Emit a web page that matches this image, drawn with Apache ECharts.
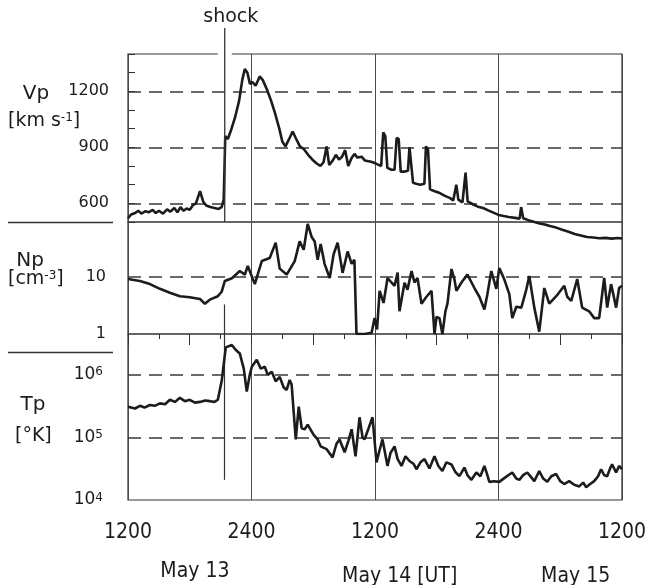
<!DOCTYPE html>
<html><head><meta charset="utf-8">
<script src="https://cdn.jsdelivr.net/npm/echarts@6/dist/echarts.min.js"></script>
<style>html,body{margin:0;padding:0;background:#fff}#c{width:649px;height:585px}</style>
</head><body><div id="c"></div>
<script>
// ---- data (hours after May 13 1200 UT) ----
const shockHour = 9.4;
const xTickLabels = ['1200', '2400', '1200', '2400', '1200'];
const dayLabels = ['May 13', 'May 14 [UT]', 'May 15'];
const vpTickLabels = [600, 900, 1200];
const vpDashed = [600, 900, 1200];
const npTickLabels = [1, 10];
const npDashed = [10];
const tpTickExps = [4, 5, 6];
const tpDashed = [1e5, 1e6];

const vpTime = [0.0,0.3,0.7,1.0,1.3,1.7,2.0,2.4,2.7,3.0,3.4,3.8,4.1,4.5,4.8,5.1,5.4,5.7,6.0,6.3,6.6,7.0,7.3,7.6,8.0,8.4,8.8,9.1,9.3,9.45,9.7,10.0,10.4,10.8,11.1,11.35,11.6,11.85,12.1,12.4,12.8,13.1,13.5,13.9,14.3,14.7,15.0,15.3,15.7,16.0,16.3,16.7,17.1,17.5,17.9,18.3,18.7,19.0,19.3,19.55,19.9,20.2,20.5,20.8,21.1,21.4,21.7,22.0,22.3,22.7,23.0,23.4,23.8,24.2,24.6,24.8,25.0,25.2,25.6,25.9,26.1,26.3,26.5,26.9,27.2,27.35,27.5,27.7,28.0,28.4,28.8,28.95,29.15,29.35,29.8,30.3,30.8,31.3,31.6,31.9,32.1,32.5,32.8,33.0,33.5,34.0,34.5,35.0,35.5,36.0,36.5,37.0,37.6,38.05,38.2,38.4,38.9,39.5,40.0,40.5,41.0,41.6,42.2,42.8,43.4,44.0,44.6,45.2,45.8,46.4,47.0,47.6,48.0];
const vpSpeed = [520,540,548,560,545,558,552,565,548,560,545,568,555,575,552,580,560,572,565,590,600,665,610,588,580,575,570,580,620,960,945,990,1060,1150,1260,1320,1300,1240,1250,1230,1280,1260,1210,1150,1080,1000,930,905,950,985,950,905,890,860,835,815,800,820,905,805,830,860,835,850,885,800,840,865,845,850,830,825,820,810,800,980,960,790,780,780,950,945,770,770,775,900,890,710,705,700,705,905,890,675,665,655,640,628,615,700,620,605,765,610,595,582,575,562,550,538,532,527,522,518,580,520,510,500,492,487,478,470,458,448,436,428,420,417,413,415,411,414,412];

const npTime = [0,1.16,2.13,3.1,4.07,5.04,6.0,7.0,7.47,7.95,8.73,9.1,9.41,10.1,10.86,11.35,11.64,12.32,13.0,13.77,14.35,14.74,15.42,16.2,16.68,17.07,17.46,17.85,18.14,18.43,18.72,19.1,19.6,19.98,20.37,20.85,21.34,21.73,22.0,22.2,22.99,23.67,23.96,24.2,24.45,24.83,25.22,25.6,25.9,26.2,26.38,26.87,27.16,27.55,27.84,28.13,28.52,29.0,29.49,29.78,29.97,30.26,30.55,30.84,31.04,31.43,31.72,31.91,32.4,32.98,33.66,34.14,34.63,34.92,35.3,35.79,36.08,36.57,37.05,37.34,37.73,38.22,38.7,38.99,39.48,39.96,40.45,40.93,41.61,42.39,42.68,43.07,43.65,44.13,44.81,45.3,45.78,46.27,46.56,46.94,47.43,47.72,48.0];
const npDensity = [9.2,8.5,7.5,6.2,5.3,4.6,4.4,4.1,3.4,4.0,4.6,5.5,8.5,9.5,12.7,11,15.6,7.5,19,21.5,40,14,11,19,42,30,85,50,42,20,38,17,9.6,25,40,11.8,28,17,20,1.0,1.0,1.05,1.9,1.2,5.7,3.5,9.6,8,7,12,2.5,7.9,6,12.7,8,9.6,3.4,4.5,5.7,1.0,2.0,1.9,1.0,2.5,3.4,13.8,9,5.7,8,11,6.4,4.5,2.7,5,12.7,6.2,14.4,9,5,1.9,3.0,2.9,6,10.4,2.9,1.1,6.4,3.4,4.6,7,4.5,3.8,9.2,2.9,2.5,1.9,1.9,9.6,2.9,7.5,2.9,6.4,7];

const tpTime = [0,0.68,1.16,1.6,2.13,2.6,3.1,3.6,4.07,4.56,5.04,5.53,6.0,6.5,7.0,7.5,7.95,8.4,8.73,9.12,9.5,10.09,10.48,10.86,11.25,11.54,11.83,12.03,12.51,12.9,13.29,13.58,13.97,14.35,14.74,15.13,15.42,15.71,15.9,16.3,16.59,16.88,17.17,17.46,17.65,18.04,18.43,18.72,19.3,19.88,20.27,20.56,21.05,21.43,21.73,22.11,22.5,22.79,22.99,23.38,23.76,24.15,24.45,24.73,25.22,25.5,25.9,26.2,26.58,26.96,27.35,27.74,28.03,28.42,28.81,29.29,29.78,30.16,30.55,30.94,31.43,31.81,32.2,32.69,32.98,33.37,33.85,34.24,34.63,34.92,35.11,35.6,36.08,36.66,37.34,37.73,38.03,38.4,38.8,39.19,39.48,39.96,40.35,40.74,41.13,41.61,42.0,42.39,42.87,43.36,43.85,44.23,44.52,44.91,45.3,45.68,45.97,46.27,46.56,46.85,47.04,47.43,47.72,48];
const tpTemp = [3.1e5,2.9e5,3.2e5,3.0e5,3.3e5,3.2e5,3.5e5,3.4e5,4.0e5,3.7e5,4.3e5,3.8e5,4.0e5,3.6e5,3.7e5,3.9e5,3.8e5,3.7e5,4.0e5,8.3e5,2.75e6,3.0e6,2.5e6,2.2e6,1.26e6,5.4e5,1.0e6,1.35e6,1.74e6,1.26e6,1.35e6,1.0e6,1.12e6,7.9e5,9.3e5,6.3e5,5.75e5,8.3e5,7.0e5,9.3e4,3.1e5,1.4e5,1.35e5,1.6e5,1.5e5,1.1e5,9.3e4,7.2e4,6.5e4,4.8e4,8.0e4,9.3e4,5.8e4,9.0e4,1.35e5,5.0e4,2.1e5,1.0e5,9.3e4,1.4e5,2.1e5,4.0e4,6.3e4,9.3e4,3.5e4,5.6e4,7.2e4,4.5e4,3.5e4,5.0e4,4.2e4,3.8e4,3.1e4,4.0e4,4.5e4,3.2e4,5.0e4,3.5e4,2.9e4,4.0e4,3.7e4,2.8e4,2.4e4,3.3e4,2.5e4,2.1e4,2.75e4,2.4e4,3.5e4,2.5e4,1.95e4,2.0e4,1.95e4,2.3e4,2.75e4,2.2e4,2.1e4,2.5e4,2.75e4,2.3e4,2.0e4,2.9e4,2.2e4,1.95e4,2.4e4,2.6e4,2.0e4,1.8e4,2.0e4,1.75e4,1.65e4,1.9e4,1.6e4,1.8e4,2.0e4,2.4e4,3.1e4,2.5e4,2.4e4,3.2e4,3.7e4,2.75e4,3.5e4,3.1e4];

// ---- chart ----
const zip = (a, b) => a.map((t, i) => [t, b[i]]);
const FONT = 'DejaVu Sans, sans-serif';
const XFONT = 'DejaVu Sans Condensed, DejaVu Sans, sans-serif';
const INK = '#1c1c1c';
const DASH = {type: [13, 8], color: '#3a3a3a', width: 1.6};
const SHOCK = {type: 'solid', color: '#333', width: 1.2};
const LW = 2.6;
const L = 128, R = 27;

function xAx(gi, labels) {
  return {type: 'value', gridIndex: gi, min: 0, max: 48, interval: 12,
    axisLine: {show: false}, axisTick: {show: false},
    axisLabel: {show: labels, margin: 22, fontFamily: XFONT, fontSize: 21, color: INK,
      formatter: v => xTickLabels[Math.round(v / 12)]},
    splitLine: {show: true, lineStyle: {color: '#4a4a4a', width: 1}}};
}
function dashLines(vals) {
  return vals.map(v => ({yAxis: v, lineStyle: DASH}));
}
function shockSeg(yTop, yBottom) {
  return [{coord: [shockHour, yTop], lineStyle: SHOCK}, {coord: [shockHour, yBottom]}];
}
const option = {
  animation: false,
  backgroundColor: '#ffffff',
  grid: [
    {left: L, right: R, top: 54, height: 168, show: true, borderColor: '#333', borderWidth: 1.2},
    {left: L, right: R, top: 222, height: 112, show: true, borderColor: '#333', borderWidth: 1.2},
    {left: L, right: R, top: 334, height: 166, show: true, borderColor: '#333', borderWidth: 1.2}
  ],
  xAxis: [xAx(0, false), xAx(1, false), xAx(2, true),
    {type: 'value', gridIndex: 2, min: 0, max: 48, interval: 6,
      axisLine: {show: false}, axisLabel: {show: false}, splitLine: {show: false},
      axisTick: {show: true, inside: true, length: 11, lineStyle: {color: '#333', width: 1}},
      minorTick: {show: true, splitNumber: 2, length: 5, lineStyle: {color: '#333', width: 1}}}
  ],
  yAxis: [
    {type: 'value', gridIndex: 0, min: 500, max: 1400, interval: 100,
      axisLine: {show: false}, splitLine: {show: false},
      axisTick: {show: true, inside: true, length: 7, lineStyle: {color: '#333'}},
      axisLabel: {margin: 19, fontFamily: FONT, fontSize: 16, color: INK,
        formatter: v => vpTickLabels.includes(v) ? String(v) : ''}},
    {type: 'log', logBase: 10, gridIndex: 1, min: 1, max: 92,
      axisLine: {show: false}, splitLine: {show: false}, axisTick: {show: false},
      axisLabel: {margin: 22, fontFamily: FONT, fontSize: 16, color: INK, showMaxLabel: false,
        formatter: v => npTickLabels.some(t => Math.abs(t - v) < 1e-6) ? String(Math.round(v)) : ''}},
    {type: 'log', logBase: 10, gridIndex: 2, min: 1e4, max: 4.5e6,
      axisLine: {show: false}, splitLine: {show: false}, axisTick: {show: false},
      axisLabel: {margin: 25, fontFamily: FONT, fontSize: 17, color: INK, showMaxLabel: false,
        formatter: v => {
          const e = Math.round(Math.log10(v));
          return (Math.abs(Math.log10(v) - e) < 1e-6 && tpTickExps.includes(e)) ? '10{s|' + e + '}' : '';
        },
        rich: {s: {fontSize: 12, verticalAlign: 'top', fontFamily: FONT, color: INK}}}}
  ],
  series: [
    {type: 'line', xAxisIndex: 0, yAxisIndex: 0, data: zip(vpTime, vpSpeed), clip: false,
      showSymbol: false, lineStyle: {color: INK, width: LW}, z: 5,
      markLine: {silent: true, symbol: 'none', label: {show: false}, z: 2,
        data: dashLines(vpDashed)}},
    {type: 'line', xAxisIndex: 1, yAxisIndex: 1, data: zip(npTime, npDensity),
      showSymbol: false, lineStyle: {color: INK, width: LW}, z: 5,
      markLine: {silent: true, symbol: 'none', label: {show: false}, z: 2,
        data: dashLines(npDashed).concat([shockSeg(3.3, 1)])}},
    {type: 'line', xAxisIndex: 2, yAxisIndex: 2, data: zip(tpTime, tpTemp),
      showSymbol: false, lineStyle: {color: INK, width: LW}, z: 5,
      markLine: {silent: true, symbol: 'none', label: {show: false}, z: 2,
        data: dashLines(tpDashed).concat([shockSeg(4.5e6, 2.1e4)])}}
  ]
};
const chart = echarts.init(document.getElementById('c'));
chart.setOption(option);

const sx = chart.convertToPixel({xAxisIndex: 0}, shockHour);
const top0 = chart.convertToPixel({yAxisIndex: 0}, 1400);
const bot0 = chart.convertToPixel({yAxisIndex: 0}, 500);
const dayX = [6.5, 26.4, 43.5].map(h => chart.convertToPixel({xAxisIndex: 2}, h));
const txt = (x, y, text, size, align, extra) => ({type: 'text', x, y, z: 60,
  style: Object.assign({text, fontFamily: FONT, fontSize: size, fill: INK, align, verticalAlign: 'middle'}, extra || {})});
const supRich = {s: {fontSize: 12, verticalAlign: 'top', fontFamily: FONT, fill: INK}};
chart.setOption({graphic: [
  {type: 'rect', shape: {x: sx - 7, y: top0 - 2, width: 14, height: 4}, style: {fill: '#fff'}, zlevel: 1, z: 1},
  {type: 'line', shape: {x1: sx, y1: 28, x2: sx, y2: bot0}, style: {stroke: '#333', lineWidth: 1.3}, zlevel: 1, z: 2},
  txt(sx + 6, 17, 'shock', 19, 'center'),
  {type: 'line', shape: {x1: 8, y1: 222.5, x2: 113, y2: 222.5}, style: {stroke: '#333', lineWidth: 1.3}, z: 50},
  {type: 'line', shape: {x1: 8, y1: 352.5, x2: 113, y2: 352.5}, style: {stroke: '#333', lineWidth: 1.3}, z: 50},
  txt(36, 94, 'Vp', 20, 'center'),
  txt(8, 121, '[km s{s|-1}]', 19, 'left', {rich: supRich}),
  txt(30, 261, 'Np', 20, 'center'),
  txt(8, 279, '[cm{s|-3}]', 19, 'left', {rich: supRich}),
  txt(33, 405, 'Tp', 20, 'center'),
  txt(15, 436, '[°K]', 19, 'left'),
  txt(dayX[0], 572, dayLabels[0], 21, 'center', {fontFamily: XFONT}),
  txt(dayX[1], 577, dayLabels[1], 21, 'center', {fontFamily: XFONT}),
  txt(dayX[2], 577, dayLabels[2], 21, 'center', {fontFamily: XFONT})
]});
</script>
</body></html>
